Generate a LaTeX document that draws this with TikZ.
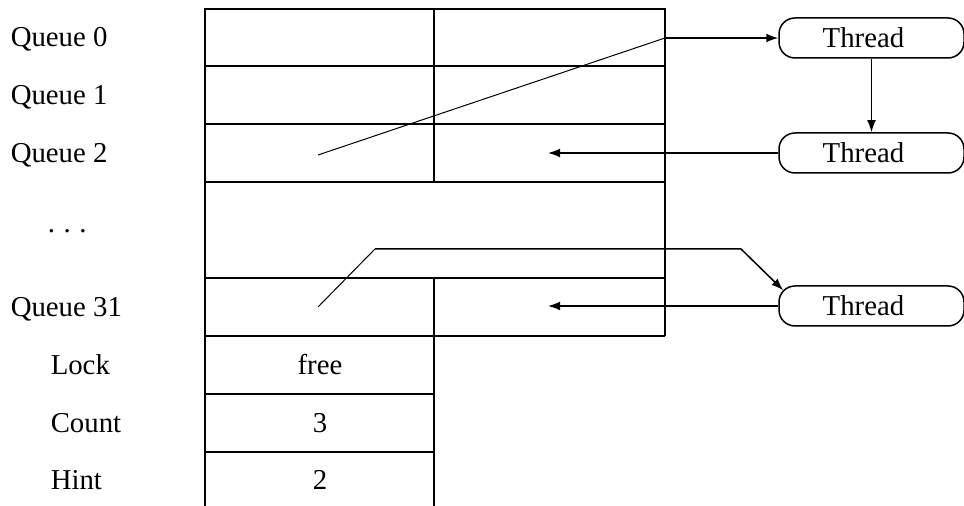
\documentclass[tikz,border=0pt]{standalone}
\usepackage{fontspec}
\setmainfont{Liberation Serif}
\usetikzlibrary{arrows.meta,calc}
\begin{document}
\begin{tikzpicture}[x=0.5pt,y=-0.5pt,
  line width=0.75pt,
  every node/.style={font=\fontsize{14.4}{16}\selectfont},
  lbl/.style={anchor=base west, inner sep=0pt},
  cell/.style={anchor=base, inner sep=0pt},
  thread/.style={draw, rounded corners=8pt, minimum width=92.5pt, minimum height=20pt, inner sep=0pt},
  ptr/.style={line width=0.5pt},
  arr/.style={-{Latex[length=6pt,width=4.4pt]}}]
\useasboundingbox (0,0) rectangle (964,506);
% table
\draw (205,506) -- (205,9) -- (665,9) -- (665,336);
\draw (205,66) -- (665,66);
\draw (205,124) -- (665,124);
\draw (205,182) -- (665,182);
\draw (205,278) -- (665,278);
\draw (205,336) -- (665,336);
\draw (205,394) -- (434,394);
\draw (205,452) -- (434,452);
\draw (434,9) -- (434,182);
\draw (434,278) -- (434,506);
% labels
\node[lbl] (lq0) at (10,47) {Queue 0};
\node[lbl] (lq1) at (10,105) {Queue 1};
\node[lbl] (lq2) at (10,163) {Queue 2};
\node[lbl] (ldots) at (47,233) {.\hspace{4.3pt}.\hspace{4.3pt}.};
\node[lbl] (lq31) at (10,317) {Queue 31};
\node[lbl] (llock) at (50,375) {Lock};
\node[lbl] (lcount) at (50,433) {Count};
\node[lbl] (lhint) at (50,490) {Hint};
% cell values
\node[cell] (vfree) at (320,375) {free};
\node[cell] (vcount) at (320,433) {3};
\node[cell] (vhint) at (320,490) {2};
% threads
\node[thread] (t1) at (871.5,38) {\hspace*{-8pt}Thread};
\node[thread] (t2) at (871.5,153) {\hspace*{-8pt}Thread};
\node[thread] (t3) at (871.5,306) {\hspace*{-8pt}Thread};
% pointer coordinates
\coordinate (p0) at (318,155);
\coordinate (q0) at (665,38);
\coordinate (c2) at (548,153);
\coordinate (c31) at (548,306);
\coordinate (p31) at (318,307);
\coordinate (b1) at (375,249);
\coordinate (b2) at (741,249);
% connectors
\draw[ptr] (p0) -- (q0);
\draw[arr] (q0) -- (t1.west);
\draw[arr] (t1.south) -- (t2.north);
\draw[arr] (t2.west) -- (c2);
\draw[arr] (t3.west) -- (c31);
\draw[ptr] (p31) -- (b1);
\draw[arr] (b1) -- (b2) -- ($(t3.north west)+(5,5)$);
\end{tikzpicture}
\end{document}
